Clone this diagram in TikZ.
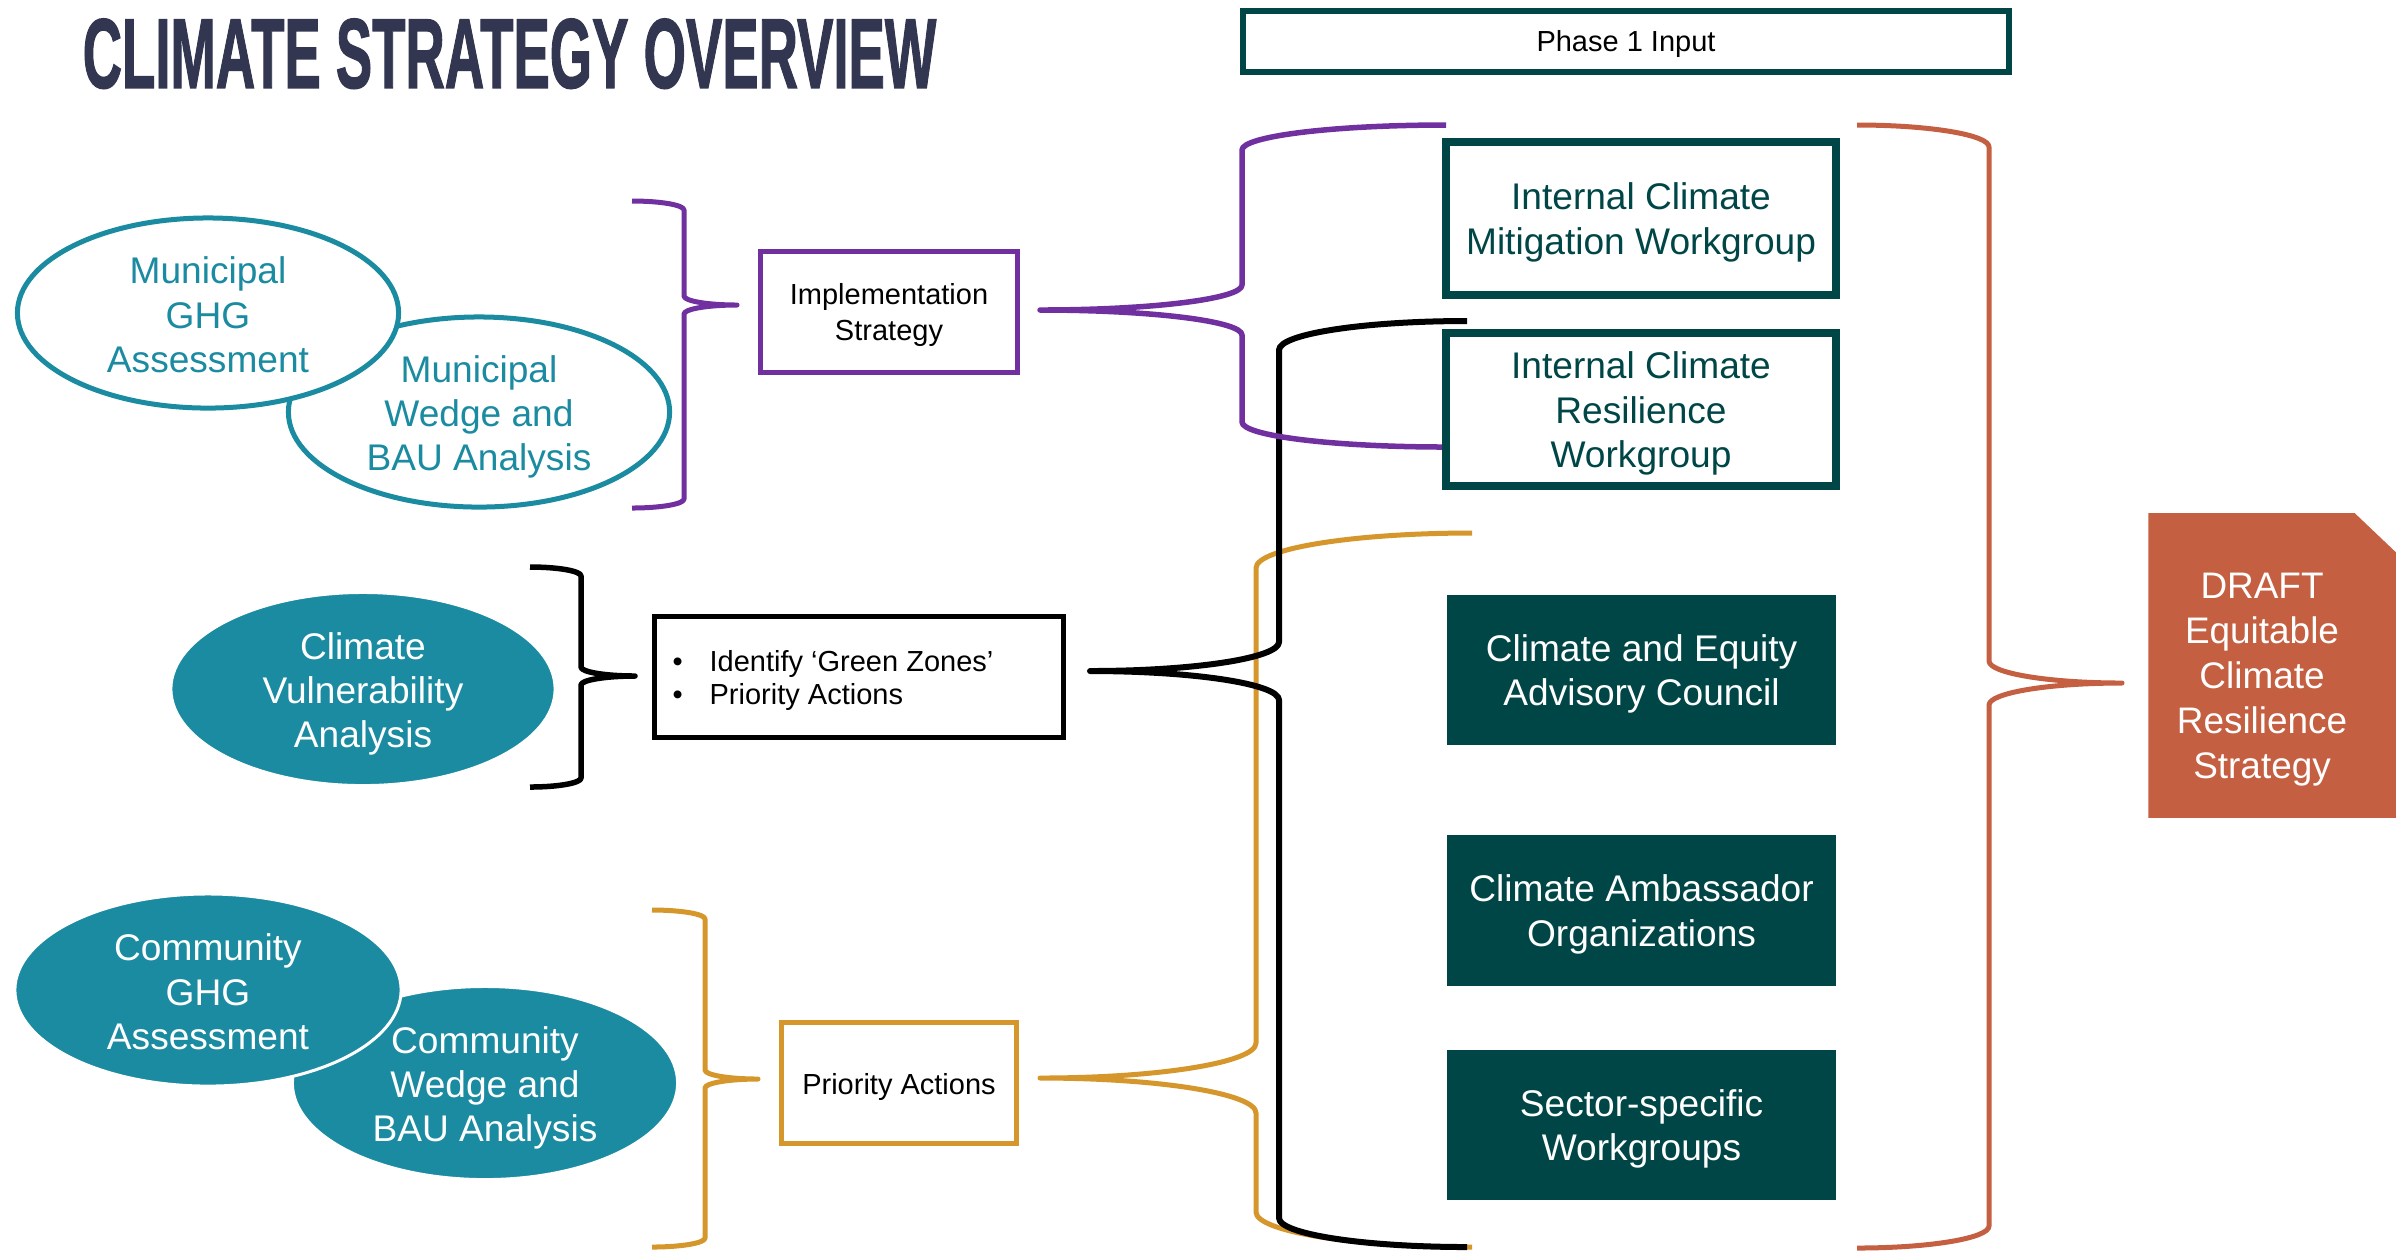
\documentclass[tikz,border=0pt]{standalone}
\usepackage{fontspec}
\setmainfont{Liberation Sans}
\newfontfamily\titlefont{Liberation Sans}[BoldFeatures={FakeBold=1.6}]
\usepackage{graphicx}
\usetikzlibrary{shapes.geometric,calc}
\definecolor{tealc}{RGB}{27,139,161}
\definecolor{dgreen}{RGB}{1,70,71}
\definecolor{purplec}{RGB}{112,48,160}
\definecolor{goldc}{RGB}{213,151,44}
\definecolor{redc}{RGB}{197,95,65}
\definecolor{titlec}{RGB}{50,54,81}
% generic brace: color, line width, x ends, x arms, x tip, y top, y tip, y bottom, radius
\newcommand\drawbrace[9]{%
  \pgfmathsetmacro\bxA{#3+0.5523*(#4-#3)}%
  \pgfmathsetmacro\bxB{#5-0.5523*(#5-#4)}%
  \pgfmathsetmacro\byA{#6+(1-0.5523)*#9}%
  \pgfmathsetmacro\byB{#6+#9}%
  \pgfmathsetmacro\byC{#7-#9}%
  \pgfmathsetmacro\byD{#7-(1-0.5523)*#9}%
  \pgfmathsetmacro\byE{#7+(1-0.5523)*#9}%
  \pgfmathsetmacro\byF{#7+#9}%
  \pgfmathsetmacro\byG{#8-#9}%
  \pgfmathsetmacro\byH{#8-(1-0.5523)*#9}%
  \draw[#1,line width=#2,line join=round] (#3,#6) .. controls (\bxA,#6) and (#4,\byA) .. (#4,\byB)
    -- (#4,\byC) .. controls (#4,\byD) and (\bxB,#7) .. (#5,#7)
    .. controls (\bxB,#7) and (#4,\byE) .. (#4,\byF)
    -- (#4,\byG) .. controls (#4,\byH) and (\bxA,#8) .. (#3,#8);
}
\tikzset{
  bigtxt/.style={inner sep=0, font=\fontsize{10.55pt}{12.6pt}\selectfont, align=center},
  smalltxt/.style={inner sep=0, font=\fontsize{8.25pt}{10.1pt}\selectfont, align=center},
  ellout/.style={ellipse, draw=tealc, line width=0.05cm, fill=white, inner sep=0},
  ellfill/.style={ellipse, draw=white, line width=0.03cm, fill=tealc, inner sep=0},
  inbox/.style={rectangle, draw, fill=white, inner sep=0},
  wgbox/.style={rectangle, draw=dgreen, line width=0.08cm, fill=white, inner sep=0,
     minimum width=3.90cm, minimum height=1.53cm},
  grbox/.style={rectangle, fill=dgreen, inner sep=0, minimum width=3.89cm, minimum height=1.50cm},
}
\begin{document}
\begin{tikzpicture}[x=0.01cm,y=-0.01cm]
\fill[white] (0,0) rectangle (2404,1253);
\useasboundingbox (0,0) rectangle (2404,1253);

% title
\node[inner sep=0, text=titlec, anchor=north west] (title) at (82,18)
  {\resizebox{8.53cm}{0.69cm}{\titlefont\bfseries CLIMATE STRATEGY OVERVIEW}};

% braces
\drawbrace{goldc}{0.05cm}{1472}{1256}{1040}{533}{1078}{1247}{35}
\drawbrace{goldc}{0.05cm}{652}{705}{758}{910}{1079}{1247}{9}
\drawbrace{black}{0.06cm}{1467}{1279}{1090}{321}{671}{1247}{29}
\drawbrace{black}{0.055cm}{530}{581}{635}{567}{676}{787}{9}
\drawbrace{purplec}{0.055cm}{1446}{1242}{1040}{125}{310}{447}{25}
\drawbrace{purplec}{0.05cm}{632}{684}{737}{201}{305}{508}{9}
\drawbrace{redc}{0.05cm}{1857}{1989}{2122}{125}{683}{1248}{22}

% ellipses
\node[ellout, minimum width=3.81cm, minimum height=1.90cm] (mwedge) at (479,412) {};
\node[bigtxt, text=tealc] (mwedgeT) at ($(mwedge.center)+(0,5)$) {Municipal\\Wedge and\\BAU Analysis};
\node[ellout, minimum width=3.81cm, minimum height=1.90cm] (mghg) at (208,313) {};
\node[bigtxt, text=tealc] (mghgT) at ($(mghg.center)+(0,2)$) {Municipal\\GHG\\Assessment};
\node[ellfill, minimum width=3.84cm, minimum height=1.93cm] (vuln) at (363,689) {};
\node[bigtxt, text=white] (vulnT) at ($(vuln.center)+(0,5)$) {Climate\\Vulnerability\\Analysis};
\node[ellfill, minimum width=3.85cm, minimum height=1.93cm] (cwedge) at (485,1083) {};
\node[bigtxt, text=white] (cwedgeT) at ($(cwedge.center)+(0,5)$) {Community\\Wedge and\\BAU Analysis};
\node[ellfill, minimum width=3.86cm, minimum height=1.92cm] (cghg) at (208,990) {};
\node[bigtxt, text=white] (cghgT) at ($(cghg.center)+(0,2)$) {Community\\GHG\\Assessment};

% middle boxes
\node[inbox, draw=purplec, line width=0.05cm, minimum width=2.57cm, minimum height=1.21cm] (impl) at (889,312) {};
\node[smalltxt] (implT) at ($(impl.center)+(0,3)$) {Implementation\\Strategy};
\node[inbox, draw=black, line width=0.055cm, minimum width=4.085cm, minimum height=1.205cm] (ident) at (859,677) {};
\node[smalltxt, align=left, anchor=west, font=\fontsize{8.25pt}{9.4pt}\selectfont] (identT) at ($(ident.west)+(20,3)$)
  {\makebox[0.37cm][l]{\textbullet}Identify ‘Green Zones’\\\makebox[0.37cm][l]{\textbullet}Priority Actions};
\node[inbox, draw=goldc, line width=0.05cm, minimum width=2.35cm, minimum height=1.21cm] (prio) at (899,1083) {};
\node[smalltxt] (prioT) at ($(prio.center)+(0,4)$) {Priority Actions};

% right column
\node[inbox, draw=dgreen, line width=0.06cm, minimum width=7.66cm, minimum height=0.61cm] (phase) at (1626,41.5) {};
\node[smalltxt] (phaseT) at ($(phase.center)+(0,2)$) {Phase 1 Input};
\node[wgbox] (mitig) at (1641,218.5) {};
\node[bigtxt, text=dgreen] (mitigT) at ($(mitig.center)+(0,4)$) {Internal Climate\\Mitigation Workgroup};
\node[wgbox] (resil) at (1641,409.5) {};
\node[bigtxt, text=dgreen] (resilT) at ($(resil.center)+(0,4)$) {Internal Climate\\Resilience\\Workgroup};
\node[grbox] (ceac) at (1641.5,670) {};
\node[bigtxt, text=white] (ceacT) at ($(ceac.center)+(0,4)$) {Climate and Equity\\Advisory Council};
\node[grbox] (amb) at (1641.5,910.5) {};
\node[bigtxt, text=white] (ambT) at ($(amb.center)+(0,4)$) {Climate Ambassador\\Organizations};
\node[grbox] (sector) at (1641.5,1125) {};
\node[bigtxt, text=white] (sectorT) at ($(sector.center)+(0,4)$) {Sector-specific\\Workgroups};

% draft document
\node[inner sep=0, minimum width=2.46cm, minimum height=3.03cm] (draftshape) at (2272,665.5) {};
\fill[redc] (draftshape.north west) -- ($(draftshape.north east)+(-41,0)$) -- ($(draftshape.north east)+(0,39)$)
   -- (draftshape.south east) -- (draftshape.south west) -- cycle;
\node[bigtxt, text=white, font=\fontsize{10.5pt}{12.8pt}\selectfont] (draft) at (2262,680)
  {DRAFT\\Equitable\\Climate\\Resilience\\Strategy};
\end{tikzpicture}
\end{document}
